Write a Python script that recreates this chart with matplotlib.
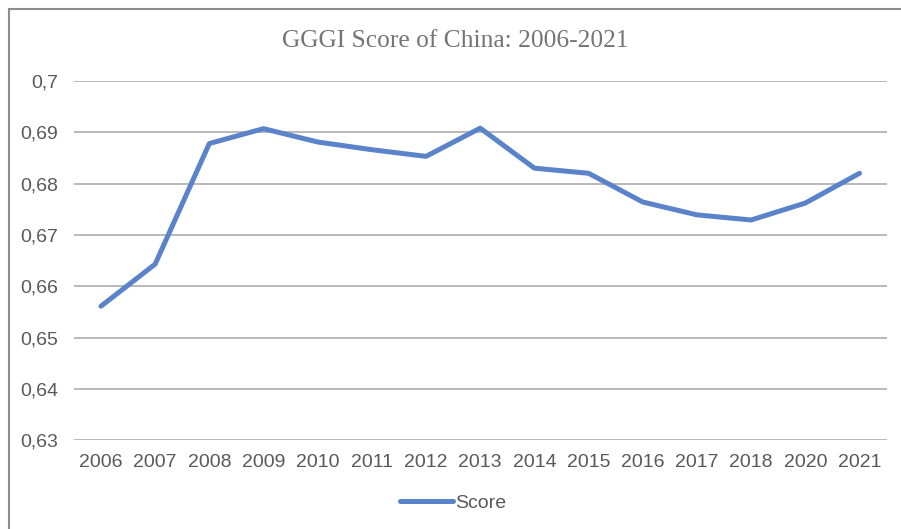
import matplotlib
matplotlib.use("Agg")
import matplotlib.pyplot as plt
from matplotlib.patches import Rectangle
from matplotlib.ticker import FuncFormatter

# GGGI scores for China
years = ["2006", "2007", "2008", "2009", "2010", "2011", "2012", "2013",
         "2014", "2015", "2016", "2017", "2018", "2020", "2021"]
score = [0.6561, 0.6643, 0.6878, 0.6907, 0.6881, 0.6866, 0.6853, 0.6908,
         0.6830, 0.6820, 0.6764, 0.6739, 0.6729, 0.6762, 0.6820]
yticks = [0.63, 0.64, 0.65, 0.66, 0.67, 0.68, 0.69, 0.70]

fig = plt.figure(figsize=(9.01, 5.29), dpi=100)
ax = fig.add_axes([0.082, 0.168, 0.902, 0.679])

# outer chart frame (runs off the right and bottom of the image)
fig.patches.append(Rectangle((9 / 901, -0.05), 1.2, 1 - 9 / 529 + 0.05,
                             transform=fig.transFigure, fill=False,
                             edgecolor="#8c8c8c", linewidth=1.5))

x = range(len(years))
ax.plot(x, score, color="#5B83C9", linewidth=3.6, label="Score",
        solid_capstyle="round", solid_joinstyle="round")

ax.set_xlim(-0.5, len(years) - 0.5)
ax.set_ylim(0.63, 0.70)
ax.set_yticks(yticks)
ax.yaxis.set_major_formatter(FuncFormatter(lambda v, p: f"{v:g}".replace(".", ",")))
ax.set_xticks(list(x))
ax.set_xticklabels(years)

ax.grid(axis="y", color="#a6a6a6", linewidth=1.1)
ax.set_axisbelow(True)
for s in ax.spines.values():
    s.set_visible(False)
ax.tick_params(length=0, labelsize=14, labelcolor="#595959")
ax.tick_params(axis="x", pad=10)
ax.tick_params(axis="y", pad=11.5)
for lab in ax.get_xticklabels() + ax.get_yticklabels():
    lab.set_family("Liberation Sans")

fig.text(0.505, 0.9225, "GGGI Score of China: 2006-2021", ha="center", va="center",
         fontsize=18.4, color="#757575", family="Liberation Serif")

fig.legend(loc="center", bbox_to_anchor=(0.503, 0.049), frameon=False,
           prop={"family": "Liberation Sans", "size": 14}, labelcolor="#595959",
           handlelength=2.7, handletextpad=0.1)

fig.savefig("out.png", dpi=100)
